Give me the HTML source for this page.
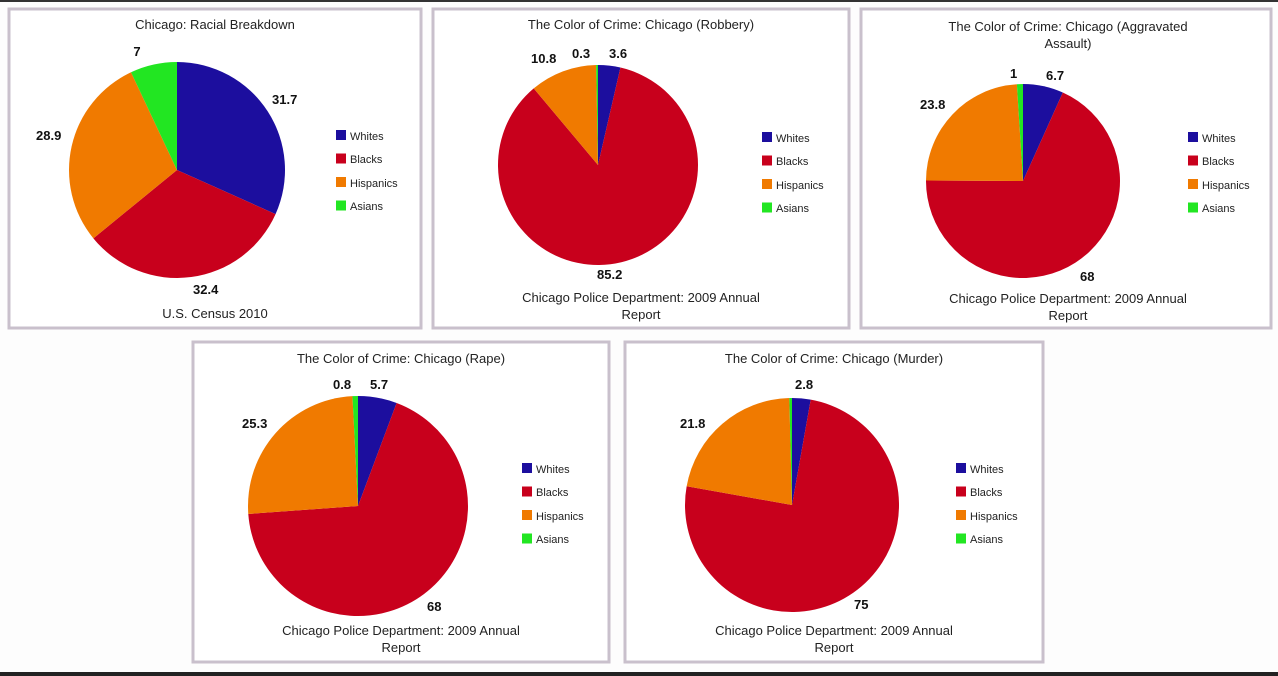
<!DOCTYPE html>
<html><head><meta charset="utf-8"><style>
html,body{margin:0;padding:0;background:#fff;}
svg{display:block;font-family:"Liberation Sans",Arial,sans-serif;}
.t{font-size:13px;fill:#222;text-anchor:middle}
.l{font-size:13px;font-weight:bold;fill:#111}
.g{font-size:11px;fill:#222}
.p{fill:#fff;stroke:#c9c0cc;stroke-width:3}
</style></head><body>
<svg id="s" width="1278" height="676" viewBox="0 0 1278 676">
<rect x="0" y="0" width="1278" height="676" fill="#fdfdfd"/>
<rect x="0" y="0" width="1278" height="2" fill="#333"/>
<rect x="0" y="672" width="1278" height="4" fill="#222"/>
<rect class="p" x="9" y="9" width="412" height="319"/>
<rect class="p" x="433" y="9" width="416" height="319"/>
<rect class="p" x="861" y="9" width="410" height="319"/>
<rect class="p" x="193" y="342" width="416" height="320"/>
<rect class="p" x="625" y="342" width="418" height="320"/>
<g id="pies"></g>
<!-- P1 -->
<text class="t" x="215" y="29">Chicago: Racial Breakdown</text>
<text class="t" x="215" y="318">U.S. Census 2010</text>
<text class="l" x="137" y="56" text-anchor="middle">7</text>
<text class="l" x="272" y="104">31.7</text>
<text class="l" x="36" y="140">28.9</text>
<text class="l" x="193" y="294">32.4</text>
<!-- P2 -->
<text class="t" x="641" y="29">The Color of Crime: Chicago (Robbery)</text>
<text class="t" x="641" y="302">Chicago Police Department: 2009 Annual</text>
<text class="t" x="641" y="319">Report</text>
<text class="l" x="531" y="63">10.8</text>
<text class="l" x="572" y="58">0.3</text>
<text class="l" x="609" y="58">3.6</text>
<text class="l" x="597" y="279">85.2</text>
<!-- P3 -->
<text class="t" x="1068" y="31">The Color of Crime: Chicago (Aggravated</text>
<text class="t" x="1068" y="48">Assault)</text>
<text class="t" x="1068" y="303">Chicago Police Department: 2009 Annual</text>
<text class="t" x="1068" y="320">Report</text>
<text class="l" x="1010" y="78">1</text>
<text class="l" x="1046" y="80">6.7</text>
<text class="l" x="920" y="109">23.8</text>
<text class="l" x="1080" y="281">68</text>
<!-- P4 -->
<text class="t" x="401" y="363">The Color of Crime: Chicago (Rape)</text>
<text class="t" x="401" y="635">Chicago Police Department: 2009 Annual</text>
<text class="t" x="401" y="652">Report</text>
<text class="l" x="333" y="389">0.8</text>
<text class="l" x="370" y="389">5.7</text>
<text class="l" x="242" y="428">25.3</text>
<text class="l" x="427" y="611">68</text>
<!-- P5 -->
<text class="t" x="834" y="363">The Color of Crime: Chicago (Murder)</text>
<text class="t" x="834" y="635">Chicago Police Department: 2009 Annual</text>
<text class="t" x="834" y="652">Report</text>
<text class="l" x="795" y="389">2.8</text>
<text class="l" x="680" y="428">21.8</text>
<text class="l" x="854" y="609">75</text>
<g id="legs"></g>
<g class="g">
<text x="350" y="140">Whites</text><text x="350" y="163">Blacks</text><text x="350" y="187">Hispanics</text><text x="350" y="210">Asians</text>
<text x="776" y="142">Whites</text><text x="776" y="165">Blacks</text><text x="776" y="189">Hispanics</text><text x="776" y="212">Asians</text>
<text x="1202" y="142">Whites</text><text x="1202" y="165">Blacks</text><text x="1202" y="189">Hispanics</text><text x="1202" y="212">Asians</text>
<text x="536" y="473">Whites</text><text x="536" y="496">Blacks</text><text x="536" y="520">Hispanics</text><text x="536" y="543">Asians</text>
<text x="970" y="473">Whites</text><text x="970" y="496">Blacks</text><text x="970" y="520">Hispanics</text><text x="970" y="543">Asians</text>
</g>
</svg>
<script>
var C=["#1c0e9e","#c8001c","#f07a00","#22e622"];
var pies=[[177,170,108,[31.7,32.4,28.9,7]],[598,165,100,[3.6,85.2,10.8,0.3]],[1023,181,97,[6.7,68,23.8,1]],[358,506,110,[5.7,68,25.3,0.8]],[792,505,107,[2.8,75,21.8,0.4]]];
var legs=[[336,130],[762,132],[1188,132],[522,463],[956,463]];
var ns="http://www.w3.org/2000/svg",g=document.getElementById("pies"),lg=document.getElementById("legs");
pies.forEach(function(p){var cx=p[0],cy=p[1],r=p[2],v=p[3],t=v.reduce(function(a,b){return a+b},0),a=0;
v.forEach(function(x,i){var a1=a+x/t*2*Math.PI;
var x0=cx+r*Math.sin(a),y0=cy-r*Math.cos(a),x1=cx+r*Math.sin(a1),y1=cy-r*Math.cos(a1);
var e=document.createElementNS(ns,"path");
e.setAttribute("d","M"+cx+","+cy+"L"+x0+","+y0+"A"+r+","+r+" 0 "+((a1-a)>Math.PI?1:0)+" 1 "+x1+","+y1+"Z");
e.setAttribute("fill",C[i]);g.appendChild(e);a=a1;});});
legs.forEach(function(l){for(var i=0;i<4;i++){var e=document.createElementNS(ns,"rect");
e.setAttribute("x",l[0]);e.setAttribute("y",l[1]+i*23.5);e.setAttribute("width",10);e.setAttribute("height",10);e.setAttribute("fill",C[i]);lg.appendChild(e);}});
</script>
</body></html>
